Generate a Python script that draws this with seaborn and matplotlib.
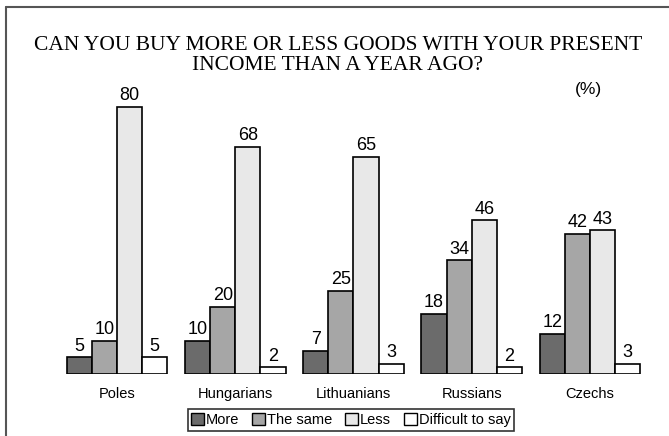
import matplotlib
matplotlib.use("Agg")
import matplotlib.pyplot as plt
from matplotlib.lines import Line2D
import seaborn as sns
import pandas as pd

# Survey answers by nationality (%)
nations = ["Poles", "Hungarians", "Lithuanians", "Russians", "Czechs"]
answers = ["More", "The same", "Less", "Difficult to say"]
more = [5, 10, 7, 18, 12]
same = [10, 20, 25, 34, 42]
less = [80, 68, 65, 46, 43]
difficult = [5, 2, 3, 2, 3]

colors = ["#6b6b6b", "#a6a6a6", "#e8e8e8", "#ffffff"]

rows = []
for answer, vals in zip(answers, [more, same, less, difficult]):
    for nation, v in zip(nations, vals):
        rows.append({"nation": nation, "answer": answer, "value": v})
df = pd.DataFrame(rows)

sns.set_style("white")
plt.rcParams["font.family"] = ["Liberation Sans", "DejaVu Sans"]
plt.rcParams["text.color"] = "black"
plt.rcParams["xtick.color"] = "black"

fig = plt.figure(figsize=(6.69, 4.36), dpi=100)
ax = fig.add_axes([0.0867, 0.1422, 0.8834, 0.6894])

sns.barplot(data=df, x="nation", y="value", hue="answer", order=nations,
            hue_order=answers, palette=colors, width=0.85, saturation=1,
            edgecolor="black", linewidth=1.2, ax=ax, legend=True)

for container in ax.containers:
    ax.bar_label(container, fmt="%d", padding=2, fontsize=13, color="black")

ax.set_xlim(-0.5, 4.5)
ax.set_ylim(0, 90)
ax.set_xlabel("")
ax.set_ylabel("")
ax.set_yticks([])
ax.tick_params(axis="x", length=0, labelsize=10.5, pad=9, labelcolor="black")
for s in ax.spines.values():
    s.set_visible(False)

leg = ax.legend(loc="center", bbox_to_anchor=(351 / 669, 1 - 420 / 436),
                bbox_transform=fig.transFigure, ncol=4, frameon=True,
                fontsize=10.5, handlelength=0.85, handleheight=0.85,
                handletextpad=0.15, columnspacing=0.9, borderpad=0.25,
                fancybox=False, borderaxespad=0)
leg.get_frame().set_edgecolor("black")
leg.get_frame().set_linewidth(1.2)
for h in leg.legend_handles:
    h.set_edgecolor("black")
    h.set_linewidth(1.0)

# Title and unit note
fig.text(0.505, 1 - 46 / 436, "CAN YOU BUY MORE OR LESS GOODS WITH YOUR PRESENT",
         ha="center", va="center", fontsize=15.5, family="Liberation Serif")
fig.text(0.505, 1 - 65 / 436, "INCOME THAN A YEAR AGO?",
         ha="center", va="center", fontsize=15.5, family="Liberation Serif")
fig.text(588 / 669, 1 - 89 / 436, "(%)", ha="center", va="center", fontsize=12.5)

# Frame lines along top and left edge
fig.add_artist(Line2D([6 / 669, 1.0], [1 - 7 / 436, 1 - 7 / 436],
                      transform=fig.transFigure, color="#555555", linewidth=1.5))
fig.add_artist(Line2D([6 / 669, 6 / 669], [1 - 7 / 436, 0.0],
                      transform=fig.transFigure, color="#555555", linewidth=1.5))

fig.savefig("out.png", dpi=100, facecolor="white")
